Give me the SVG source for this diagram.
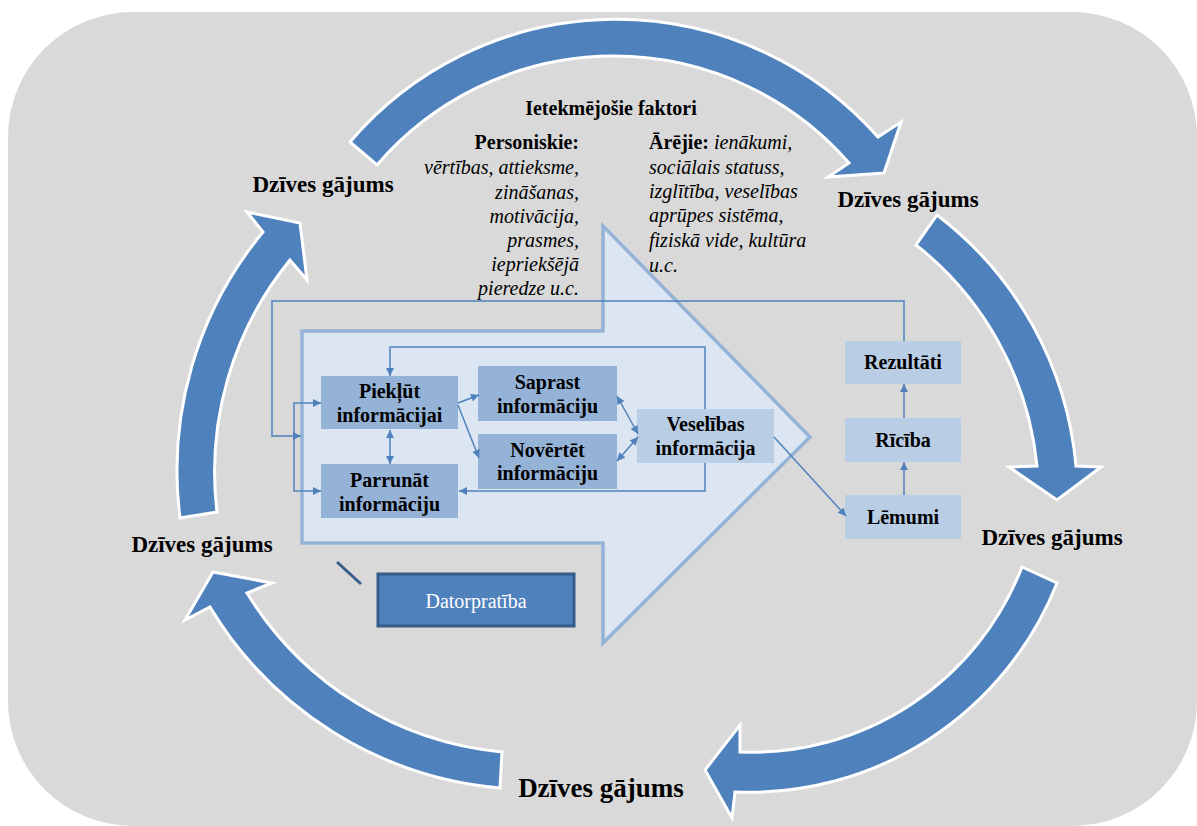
<svg xmlns="http://www.w3.org/2000/svg" width="1197" height="826" viewBox="0 0 1197 826">
<style>
.b{font-family:"Liberation Serif","Times New Roman",serif;font-weight:bold;fill:#000}
.lbl{font-size:20px;text-anchor:middle}
.life{font-size:23px;text-anchor:middle}
.it{font-family:"Liberation Serif","Times New Roman",serif;font-style:italic;font-size:20px;fill:#000}
.cyc{fill:#4f81bd;stroke:#fff;stroke-width:3;stroke-linejoin:miter}
.box1{fill:#95b3d7}
.box2{fill:#b9cde5}
.ln{fill:none;stroke:#4f81bd;stroke-width:1.5}
</style>
<defs>
<marker id="ah" viewBox="0 0 10 10" refX="10" refY="5" markerWidth="9" markerHeight="8" markerUnits="userSpaceOnUse" orient="auto-start-reverse"><path d="M0,0 L10,5 L0,10 Z" fill="#4f81bd"/></marker>
</defs>
<rect x="8" y="12" width="1189" height="814" rx="125" fill="#d9d9d9"/>

<g id="cycle-arrows">
<path id="arrow-top" class="cyc" d="M350,142 A350,350 0 0 1 878,137 L901,122 L884,173 L828,177 L849,163 A312,312 0 0 0 377,165 Z"/>
<path id="arrow-right" class="cyc" d="M937,215 A356,356 0 0 1 1076,466 L1101,467 L1057,500 L1009,467 L1037,466 A321,321 0 0 0 916,245 Z"/>
<path id="arrow-bottom-right" class="cyc" d="M1057,583 A331,331 0 0 1 735,792 L732,818 L705,770 L740,725 L740,752 A290,290 0 0 0 1022,567 Z"/>
<path id="arrow-bottom-left" class="cyc" d="M500,788 A377,377 0 0 1 210,607 L185,620 L213,572 L272,583 L247,593 A336,336 0 0 0 502,752 Z"/>
<path id="arrow-left" class="cyc" d="M180,518 A374,374 0 0 1 263,232 L247,212 L300,223 L307,280 L290,260 A335,335 0 0 0 217,512 Z"/>
</g>

<g id="life-labels">
<text class="b life" x="323" y="192">Dzīves gājums</text>
<text class="b life" x="908" y="207">Dzīves gājums</text>
<text class="b life" x="1052" y="545">Dzīves gājums</text>
<text class="b life" x="202" y="552">Dzīves gājums</text>
<text class="b" x="601" y="797" font-size="27" text-anchor="middle">Dzīves gājums</text>
</g>

<g id="factors">
<text class="b" x="611" y="115" font-size="20" text-anchor="middle">Ietekmējošie faktori</text>
<g text-anchor="end">
<text class="b" x="579" y="149" font-size="20">Personiskie:</text>
<text class="it" x="579" y="174">vērtības, attieksme,</text>
<text class="it" x="579" y="199">zināšanas,</text>
<text class="it" x="579" y="223">motivācija,</text>
<text class="it" x="579" y="247">prasmes,</text>
<text class="it" x="579" y="271">iepriekšējā</text>
<text class="it" x="579" y="295">pieredze u.c.</text>
</g>
<text x="649" y="149"><tspan class="b" font-size="20">Ārējie:</tspan><tspan class="it"> ienākumi,</tspan></text>
<text class="it" x="649" y="174">sociālais statuss,</text>
<text class="it" x="649" y="198">izglītība, veselības</text>
<text class="it" x="649" y="222">aprūpes sistēma,</text>
<text class="it" x="649" y="247">fiziskā vide, kultūra</text>
<text class="it" x="649" y="272">u.c.</text>
</g>

<g id="health-literacy-arrow">
<path d="M302,331 L603,331 L603,226 L810,437 L603,643 L603,543 L302,543 Z" fill="#dce6f2" stroke="#95b3d7" stroke-width="3.5" stroke-linejoin="miter"/>
</g>

<g id="node-pieklut"><rect class="box1" x="321" y="376" width="137" height="53"/><text class="b lbl" x="389.5" y="398">Piekļūt</text><text class="b lbl" x="389.5" y="422">informācijai</text></g>
<g id="node-parrunat"><rect class="box1" x="321" y="464" width="137" height="54"/><text class="b lbl" x="389.5" y="487">Parrunāt</text><text class="b lbl" x="389.5" y="511">informāciju</text></g>
<g id="node-saprast"><rect class="box1" x="478" y="366" width="139" height="55"/><text class="b lbl" x="547.5" y="389">Saprast</text><text class="b lbl" x="547.5" y="413">informāciju</text></g>
<g id="node-novertet"><rect class="box1" x="478" y="434" width="139" height="55"/><text class="b lbl" x="547.5" y="457">Novērtēt</text><text class="b lbl" x="547.5" y="480">informāciju</text></g>
<g id="node-veselibas"><rect class="box2" x="637" y="409" width="137" height="54"/><text class="b lbl" x="705.5" y="431">Veselības</text><text class="b lbl" x="705.5" y="455">informācija</text></g>
<g id="node-rezultati"><rect class="box2" x="845" y="341" width="116" height="43"/><text class="b lbl" x="903" y="369">Rezultāti</text></g>
<g id="node-riciba"><rect class="box2" x="845" y="418" width="116" height="44"/><text class="b lbl" x="903" y="447">Rīcība</text></g>
<g id="node-lemumi"><rect class="box2" x="845" y="495" width="116" height="44"/><text class="b lbl" x="903" y="524">Lēmumi</text></g>

<g id="connectors">
<polyline class="ln" points="904,341 904,301 272,301 272,436 301,436" marker-end="url(#ah)"/>
<polyline class="ln" points="321,403 294,403 294,491 321,491" marker-start="url(#ah)" marker-end="url(#ah)"/>
<polyline class="ln" points="705,409 705,347 390,347 390,376" marker-end="url(#ah)"/>
<polyline class="ln" points="705,463 705,491 459,491" marker-end="url(#ah)"/>
<line class="ln" x1="390" y1="430" x2="390" y2="464" marker-start="url(#ah)" marker-end="url(#ah)"/>
<line class="ln" x1="458" y1="403" x2="479" y2="395" marker-end="url(#ah)"/>
<line class="ln" x1="458" y1="405" x2="479" y2="458" marker-end="url(#ah)"/>
<line class="ln" x1="617" y1="396" x2="638" y2="434" marker-start="url(#ah)" marker-end="url(#ah)"/>
<line class="ln" x1="617" y1="461" x2="638" y2="437" marker-start="url(#ah)" marker-end="url(#ah)"/>
<line class="ln" x1="774" y1="437" x2="846" y2="516" marker-end="url(#ah)"/>
<line class="ln" x1="904" y1="495" x2="904" y2="462" marker-end="url(#ah)"/>
<line class="ln" x1="904" y1="418" x2="904" y2="384" marker-end="url(#ah)"/>
</g>

<g id="node-datorpratiba">
<line x1="337" y1="562" x2="361" y2="584" stroke="#385d8a" stroke-width="3"/>
<rect x="378" y="574" width="196" height="52" fill="#4f81bd" stroke="#385d8a" stroke-width="3"/>
<text x="476" y="608" font-family="'Liberation Serif','Times New Roman',serif" font-size="20" fill="#fff" text-anchor="middle">Datorpratība</text>
</g>
</svg>
